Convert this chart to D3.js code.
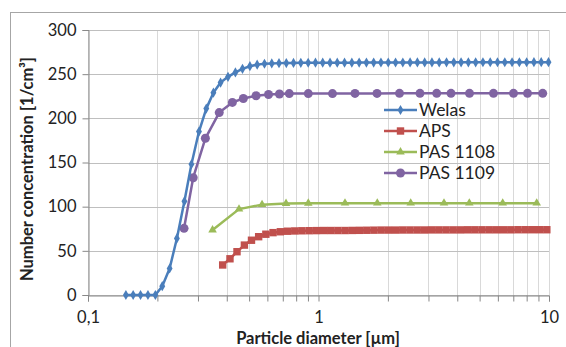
<!DOCTYPE html>
<html><head><meta charset="utf-8">
<script src="https://cdn.jsdelivr.net/npm/d3@7"></script>
<style>
html,body{margin:0;padding:0;background:#fff;overflow:hidden}
svg{display:block}
text{font-family:Lato,"Open Sans",sans-serif;fill:#222}
</style></head>
<body>
<svg id="c" width="566" height="347"></svg>
<script>
// ---- data ----
const welasD = [0.146,0.157,0.169,0.182,0.196,0.210,0.226,0.243,0.262,0.281,0.303,0.326,0.350,0.376,0.405,0.436,0.468,0.504,0.542,0.583,0.627,0.674,0.725,0.779,0.838,0.902,0.970,1.043,1.122,1.206,1.297,1.395,1.501,1.614,1.735,1.866,2.007,2.159,2.322,2.497,2.685,2.888,3.106,3.340,3.592,3.864,4.155,4.469,4.806,5.169,5.559,5.978,6.430,6.915,7.437,7.998,8.602,9.252,9.95];
const welasV = [0,0,0,0,0,10,30,64,106,148,185,211,229,240.5,247,252,256,259,260.8,261.8,262.2,262.5,262.6,262.7,262.8,262.9,263,263,263,263,263,263,263.1,263.1,263.1,263.2,263.2,263.2,263.2,263.3,263.3,263.3,263.3,263.3,263.4,263.4,263.4,263.4,263.4,263.5,263.5,263.5,263.5,263.5,263.5,263.5,263.6,263.6,263.6];
const apsD = [0.384,0.413,0.443,0.477,0.512,0.550,0.591,0.635,0.683,0.734,0.789,0.847,0.911,0.979,1.052,1.130,1.214,1.305,1.403,1.507,1.620,1.740,1.870,2.010,2.160,2.321,2.494,2.680,2.880,3.095,3.326,3.574,3.840,4.127,4.435,4.765,5.121,5.503,5.913,6.354,6.828,7.337,7.885,8.475,9.107,9.786];
const apsV = [34,41,49,56.5,62,66,68.8,70.6,71.6,72.2,72.5,72.7,72.8,72.9,73,73,73,73,73.1,73.2,73.3,73.4,73.5,73.5,73.5,73.6,73.6,73.6,73.6,73.7,73.7,73.7,73.7,73.7,73.8,73.8,73.8,73.8,73.8,73.8,73.8,73.9,73.9,73.9,73.9,73.9];
const pas1108D = [0.347,0.452,0.569,0.723,0.903,1.303,1.799,2.512,3.503,4.511,6.297,8.843];
const pas1108V = [73.5,97.2,102.3,103.6,103.8,104,104,104,104,104,104,104];
const pas1109D = [0.261,0.286,0.323,0.371,0.423,0.472,0.536,0.607,0.677,0.747,0.903,1.150,1.440,1.794,2.246,2.756,3.257,3.757,4.520,5.743,7.015,8.067,9.39];
const pas1109V = [75.5,132.8,177.4,206.5,218,222.4,225.6,227,227.5,228,228,228,228.2,228.2,228.3,228.3,228.3,228.3,228.3,228.3,228.3,228.3,228.3];
const seriesNames = ["Welas","APS","PAS 1108","PAS 1109"];
const seriesColors = ["#4A7EBB","#C0504D","#9BBB59","#8064A2"];
const yTicks = [0,50,100,150,200,250,300];
const xTickLabels = {0.1:"0,1",1:"1",10:"10"};
const xTitle = "Particle diameter [µm]";
const yTitle = "Number  concentration [1/cm³]";

// ---- chart ----
const svg = d3.select("#c");
const L = 88, R = 549, T = 30, B = 295;
const x = d3.scaleLog().domain([0.1,10]).range([L,R]);
const y = d3.scaleLinear().domain([0,300]).range([B,T]);

// outer border
svg.append("rect").attr("x",10.5).attr("y",12.5).attr("width",620).attr("height",400)
  .attr("fill","none").attr("stroke","#a6a6a6").attr("stroke-width",1);

// vertical grid (minor log ticks)
const xGrid = [];
[0.1,1].forEach(b=>{for(let k=1;k<=9;k++) xGrid.push(b*k);});
xGrid.push(10);
svg.append("g").selectAll("line").data(xGrid).join("line")
  .attr("x1",d=>Math.round(x(d))+0.5).attr("x2",d=>Math.round(x(d))+0.5)
  .attr("y1",T).attr("y2",B).attr("stroke","#d9d9d9").attr("stroke-width",1);
// horizontal grid
svg.append("g").selectAll("line").data(yTicks).join("line")
  .attr("x1",L).attr("x2",R)
  .attr("y1",d=>Math.round(y(d))+0.5).attr("y2",d=>Math.round(y(d))+0.5)
  .attr("stroke","#bfbfbf").attr("stroke-width",1);

// axes
const yAxis = d3.axisLeft(y).tickValues(yTicks).tickSize(6).tickPadding(6);
const gy = svg.append("g").attr("transform",`translate(${L+0.5},0)`).call(yAxis);
gy.select(".domain").attr("stroke","#888");
gy.selectAll(".tick line").attr("stroke","#888");
gy.selectAll("text").attr("font-size",16.5).attr("fill","#1a1a1a").attr("font-family","Lato");

const xAxis = d3.axisBottom(x).tickValues(xGrid).tickSize(6).tickPadding(10)
  .tickFormat(d=>xTickLabels[d]||"");
const gx = svg.append("g").attr("transform",`translate(0,${B+0.5})`).call(xAxis);
gx.select(".domain").attr("stroke","#888");
gx.selectAll(".tick line").attr("stroke","#888");
gx.selectAll("text").attr("font-size",16.5).attr("fill","#1a1a1a").attr("font-family","Lato");

// titles
svg.append("text").attr("x",318).attr("y",343.5).attr("text-anchor","middle")
  .attr("font-size",16.5).attr("font-weight","bold").text(xTitle);
svg.append("text").attr("transform","translate(33,169) rotate(-90)").attr("text-anchor","middle")
  .attr("font-size",16.5).attr("font-weight","bold").text(yTitle);

// markers
function marker(g, i, cx, cy, scale){
  const c = seriesColors[i], s = scale||1;
  if(i===0){
    g.append("path").attr("d",d3.symbol(d3.symbolDiamond, 30*s)()).attr("transform",`translate(${cx},${cy})`).attr("fill",c);
  } else if(i===1){
    g.append("rect").attr("x",cx-3.7*s).attr("y",cy-3.7*s).attr("width",7.4*s).attr("height",7.4*s).attr("fill",c);
  } else if(i===2){
    g.append("path").attr("d",d3.symbol(d3.symbolTriangle, 32*s)()).attr("transform",`translate(${cx},${cy})`).attr("fill",c);
  } else {
    g.append("circle").attr("cx",cx).attr("cy",cy).attr("r",4.5*s).attr("fill",c);
  }
}

const allD = [welasD, apsD, pas1108D, pas1109D];
const allV = [welasV, apsV, pas1108V, pas1109V];
const line = d3.line().x(d=>x(d[0])).y(d=>y(d[1]));
const order = [1,2,3,0];
order.forEach(i=>{
  const pts = allD[i].map((d,j)=>[d, allV[i][j]]);
  const g = svg.append("g");
  g.append("path").attr("d",line(pts)).attr("fill","none").attr("stroke",seriesColors[i])
    .attr("stroke-width",2.5).attr("stroke-linejoin","round");
  pts.forEach(p=>marker(g,i,x(p[0]),y(p[1])));
});

// legend
const lg = svg.append("g");
const legY = [110,131,152,173];
seriesNames.forEach((n,i)=>{
  lg.append("line").attr("x1",384).attr("x2",417).attr("y1",legY[i]).attr("y2",legY[i])
    .attr("stroke",seriesColors[i]).attr("stroke-width",2.5);
  marker(lg,i,400.5,legY[i],1);
  lg.append("text").attr("x",419).attr("y",legY[i]).attr("dy","0.36em")
    .attr("font-size",17.5).text(n);
});
</script>
</body></html>
